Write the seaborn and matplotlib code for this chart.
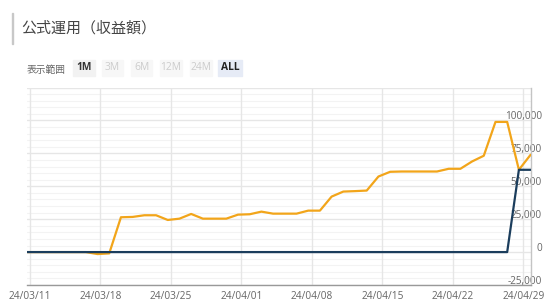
import numpy as np
import pandas as pd
import matplotlib
matplotlib.use("Agg")
import matplotlib.pyplot as plt
from matplotlib.patches import Rectangle
from matplotlib.transforms import ScaledTranslation
import seaborn as sns

# ---------------- data ----------------
title = "公式運用（収益額）"
range_label = "表示範囲"
range_buttons = ["1M", "3M", "6M", "12M", "24M", "ALL"]

tick_labels = ["24/03/11", "24/03/18", "24/03/25", "24/04/01",
               "24/04/08", "24/04/15", "24/04/22", "24/04/29"]

# profit series (orange), one value per trading point
profit = [0, 0, 0, 0, 0, 0, -1500, -1000,
          26450, 26700, 27970, 27970, 24390, 25380, 28960, 25380,
          25380, 25380, 28430, 28730, 30720, 29190, 29190, 29190,
          31480, 31480, 42150, 45960, 46300, 46720, 57390, 60980,
          61200, 61200, 61200, 61200, 63260, 63260, 68830, 73170,
          98860, 98860, 62500, 73930]
# principal series (navy)
principal = [0] * 42 + [62500, 62500]

y_ticks = [-25000, 0, 25000, 50000, 75000, 100000]
y_tick_labels = ["-25,000", "0", "25,000", "50,000", "75,000", "100,000"]

# ---------------- frame ----------------
n = len(profit)
idx = np.arange(n)
df = pd.DataFrame({
    "i": np.concatenate([idx, idx]),
    "value": profit + principal,
    "series": ["収益額"] * n + ["元本"] * n,
})

sns.set_style("white")
plt.rcParams["font.family"] = ["Open Sans", "Noto Sans CJK JP", "DejaVu Sans"]

W, H = 553, 305
fig = plt.figure(figsize=(W / 100, H / 100), dpi=100)

def fx(px):
    return px / W

def fy(py):
    return 1 - py / H

left, right, top, bottom = 27.3, 530.6, 87.5, 285.0
ax = fig.add_axes([fx(left), fy(bottom), fx(right - left), (bottom - top) / H])

# grid (minor then major)
for v in np.arange(-25000, 125001, 5000):
    if v % 25000:
        ax.axhline(v, color="#f3f3f3", lw=0.8, zorder=0)
for v in np.arange(-25000, 125001, 25000):
    ax.axhline(v, color="#e6e6e6", lw=1.0, zorder=0)

tick_pos = [0.23 + 6.02 * k for k in range(len(tick_labels))]
for p in tick_pos:
    ax.axvline(p, color="#e6e6e6", lw=1.0, zorder=0)

sns.lineplot(data=df, x="i", y="value", hue="series",
             hue_order=["収益額", "元本"],
             palette={"収益額": "#f2a51a", "元本": "#1b3d5c"},
             linewidth=1.6, legend=False, ax=ax, zorder=3)

ax.set_xlim(0, n - 1)
ax.set_ylim(-25000, 125000)
ax.set_xlabel("")
ax.set_ylabel("")

# x ticks
ax.set_xticks(tick_pos)
ax.set_xticklabels(tick_labels)
ax.tick_params(axis="x", length=3, width=1, color="#cccccc", pad=1.5,
               labelsize=7.3, labelcolor="#666666")

# y ticks on right, labels right-aligned and raised above grid line
ax.yaxis.tick_right()
ax.set_yticks(y_ticks)
ax.set_yticklabels(y_tick_labels)
ax.tick_params(axis="y", length=0, pad=8.2, labelsize=7.2, labelcolor="#666666")
for lab in ax.get_yticklabels():
    lab.set_horizontalalignment("right")
    lab.set_transform(lab.get_transform() + ScaledTranslation(0, 5 / 100, fig.dpi_scale_trans))

for s in ["top", "left"]:
    ax.spines[s].set_visible(False)
ax.spines["bottom"].set_color("#999999")
ax.spines["bottom"].set_linewidth(1.0)
ax.spines["right"].set_color("#c4c4c4")
ax.spines["right"].set_linewidth(1.0)

# ---------------- header ----------------
fig.patches.append(Rectangle((fx(11.5), fy(43.5)), fx(1.6), (43.5 - 13) / H,
                             transform=fig.transFigure, color="#c8c8c8"))
fig.text(fx(21), fy(28.5), title, fontsize=10.8, color="#444444",
         va="center", ha="left", family=["Noto Sans CJK JP", "DejaVu Sans"])

fig.text(fx(26.5), fy(69.5), range_label, fontsize=7, color="#666666",
         va="center", ha="left", family=["Noto Sans CJK JP", "DejaVu Sans"])

btn_x = [73.3, 101.7, 130.7, 160.0, 190.0, 218.3]
btn_w = [21.7, 21.7, 21.7, 21.7, 21.7, 23.4]
for lbl, bx, bw in zip(range_buttons, btn_x, btn_w):
    if lbl == "ALL":
        bg, fc, fw = "#e6ebf6", "#222222", "bold"
    elif lbl == "1M":
        bg, fc, fw = "#f2f2f2", "#333333", "bold"
    else:
        bg, fc, fw = "#f7f7f7", "#cccccc", "normal"
    fig.patches.append(Rectangle((fx(bx), fy(75.5)), fx(bw), 15.5 / H,
                                 transform=fig.transFigure, color=bg))
    fig.text(fx(bx + bw / 2), fy(68), lbl, fontsize=7.4, color=fc,
             fontweight=fw, va="center", ha="center")

fig.savefig("out.png", dpi=100, facecolor="white")
